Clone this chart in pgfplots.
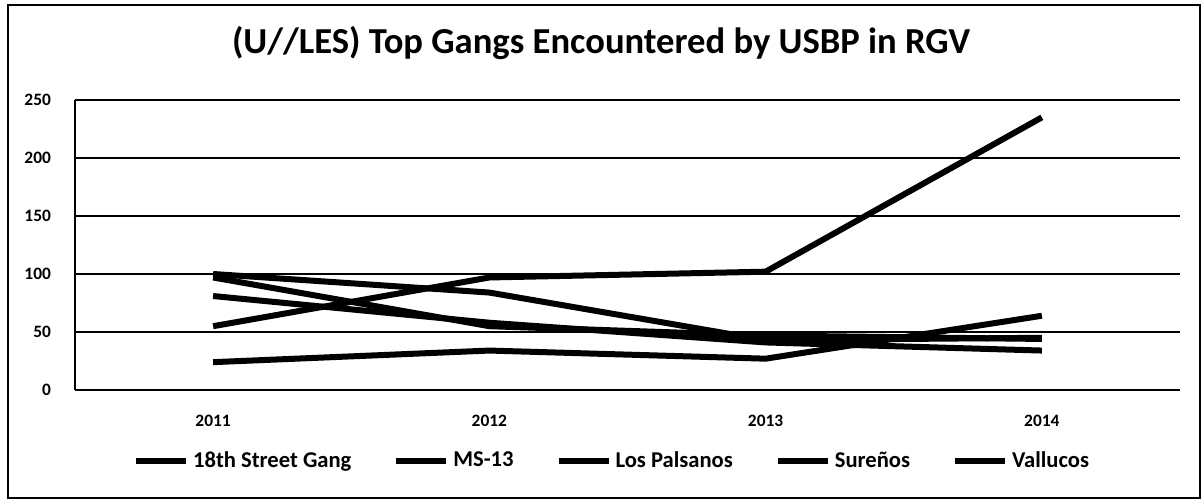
\documentclass[border=0pt]{standalone}
\usepackage{pgfplots}
\pgfplotsset{compat=1.18}
\usepackage{fontspec}
\setmainfont{Carlito}
\begin{document}
\begin{tikzpicture}
\useasboundingbox (-37.5pt,-56pt) rectangle (564pt,195pt);
\draw[line width=0.9pt] (-33.5pt,-54pt) rectangle (562.5pt,192.5pt);
\begin{axis}[
  scale only axis,
  width=552.5pt, height=145pt,
  xmin=-0.5, xmax=3.5, ymin=0, ymax=250,
  xtick={0,1,2,3},
  xticklabels={2011,2012,2013,2014},
  ytick={0,50,100,150,200,250},
  axis x line=bottom, axis y line=left,
  axis line style={line width=1pt, -},
  ymajorgrids,
  grid style={black, line width=1pt},
  major tick length=0pt,
  tick label style={font=\bfseries\fontsize{8.7}{10}\selectfont},
  /pgf/number format/assume math mode=true,
  yticklabel style={xshift=-8.5pt},
  xticklabel style={yshift=-9pt},
  title={\bfseries\fontsize{18.3}{21}\selectfont (U//LES) Top Gangs Encountered by USBP in RGV},
  title style={at={(rel axis cs:0.476,1.155)}, anchor=center},
  legend columns=5,
  legend style={draw=none, at={(0.487,-0.245)}, anchor=center,
    font=\bfseries\fontsize{11.3}{13}\selectfont,
    /tikz/every even column/.append style={column sep=19pt}},
  legend image code/.code={\draw[line width=3pt] (0pt,0pt) -- (25pt,0pt);},
  every axis plot post/.append style={black, mark=none, line width=3pt},
  clip=false,
]
\addplot coordinates {(0,55) (1,97) (2,102) (3,235)};
\addplot coordinates {(0,100) (1,84) (2,43) (3,45)};
\addplot coordinates {(0,97) (1,55) (2,47) (3,44)};
\addplot coordinates {(0,81) (1,58) (2,41) (3,34)};
\addplot coordinates {(0,24) (1,34) (2,27) (3,64)};
\legend{18th Street Gang, MS-13, Los Palsanos, Sureños, Vallucos}
\end{axis}
\end{tikzpicture}
\end{document}
